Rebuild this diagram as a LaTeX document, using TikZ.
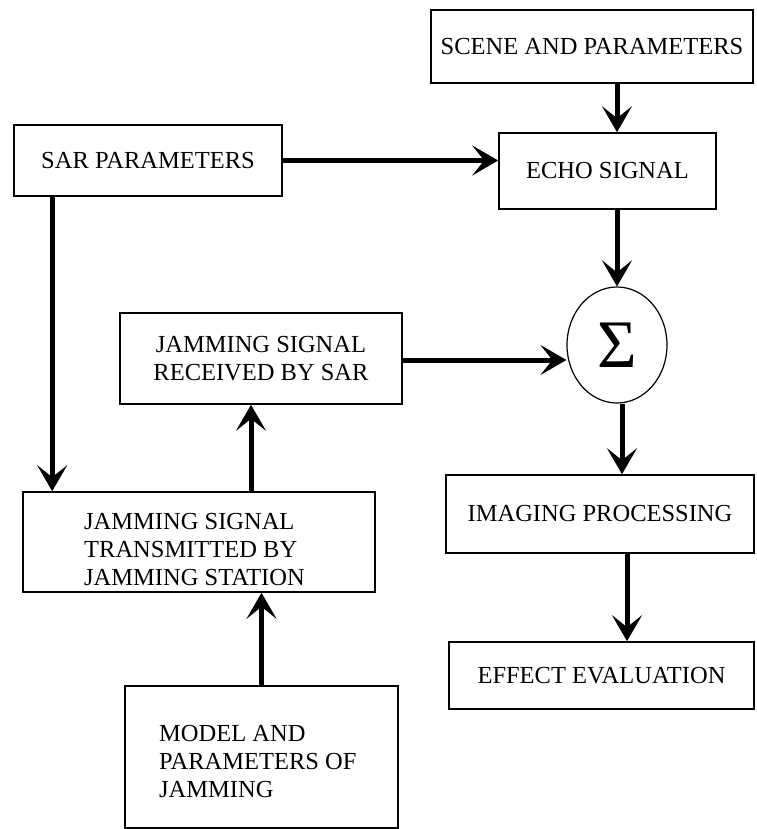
\documentclass[tikz,border=0pt]{standalone}
\usepackage{fontspec}
\setmainfont{Liberation Serif}
\usetikzlibrary{arrows.meta,shapes.geometric}
\begin{document}
\begin{tikzpicture}[x=1pt,y=-1pt,
  box/.style={draw, line width=1.6pt, rectangle, inner sep=0pt, font=\fontsize{24.5}{28}\selectfont},
  txt/.style={inner sep=0pt, align=left, font=\fontsize{24.5}{28}\selectfont},
  arr/.style={line width=5pt, -{Stealth[length=26pt,width=30pt,inset=12pt]}}]
\useasboundingbox (0,0) rectangle (756,829);
% boxes
\node[box, minimum width=322pt, minimum height=73pt] (scene) at (592,46.5) {SCENE AND PARAMETERS};
\node[box, minimum width=268pt, minimum height=71pt] (sar) at (148,160.5) {SAR PARAMETERS};
\node[box, minimum width=217pt, minimum height=76pt] (echo) at (607.5,171) {ECHO SIGNAL};
\node[draw, ellipse, line width=1.2pt, inner sep=0pt, minimum width=100pt, minimum height=116pt,
      font=\fontsize{68}{68}\selectfont] (sum) at (617,345) {Σ};
\node[box, minimum width=282pt, minimum height=91pt, align=center] (jr) at (261,358.5) {JAMMING SIGNAL\\RECEIVED BY SAR};
\node[box, minimum width=352pt, minimum height=100pt] (jt) at (199,542) {};
\node[txt, anchor=west] (jtl) at (84,550) {JAMMING SIGNAL\\TRANSMITTED BY\\JAMMING STATION};
\node[box, minimum width=308pt, minimum height=78pt] (img) at (600,514) {IMAGING PROCESSING};
\node[box, minimum width=305pt, minimum height=67pt] (eff) at (601.5,675.5) {EFFECT EVALUATION};
\node[box, minimum width=273pt, minimum height=142pt] (model) at (261.5,757) {};
\node[txt, anchor=west] (modell) at (159,761) {MODEL AND\\PARAMETERS OF\\JAMMING};
% connectors
\draw[arr] (scene.south -| sum) -- (echo.north -| sum);
\draw[arr] (sar.east) -- (sar.east -| echo.west);
\draw[arr] (echo.south -| sum) -- (sum.north);
\draw[arr] ([yshift=-1.5pt]jr.east) -- ([yshift=-1.5pt]jr.east -| sum.west);
\draw[arr] ([xshift=5pt]sum.south) -- ([xshift=5pt]sum.south |- img.north);
\draw[arr] ([xshift=27pt]img.south) -- ([xshift=27pt]img.south |- eff.north);
\draw[arr] ([xshift=39pt]sar.south west) -- ([xshift=39pt]sar.south west |- jt.north);
\draw[arr] ([xshift=-10pt]jr.south |- jt.north) -- ([xshift=-10pt]jr.south);
\draw[arr] (model.north) -- (model.north |- jt.south);
\end{tikzpicture}
\end{document}
